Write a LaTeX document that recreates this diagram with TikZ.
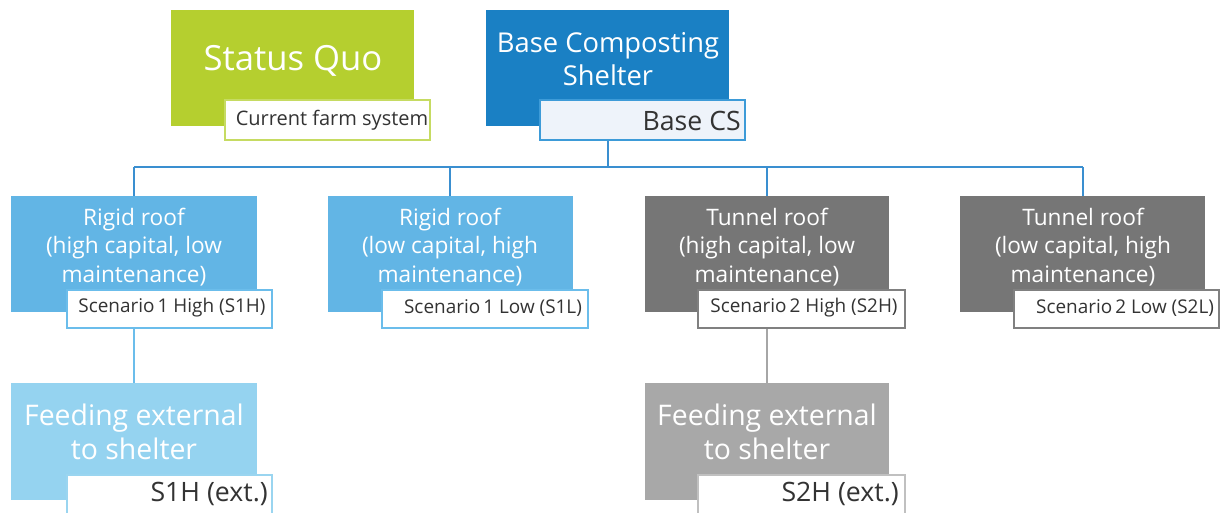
\documentclass[tikz,border=0pt]{standalone}
\usepackage{fontspec}
\setmainfont{Open Sans}
\usetikzlibrary{fit}
\definecolor{sqgreen}{HTML}{B5CF2F}
\definecolor{sqborder}{HTML}{C6DB62}
\definecolor{basecs}{HTML}{1A80C4}
\definecolor{basecsborder}{HTML}{3D9BD8}
\definecolor{basecsfill}{HTML}{EEF3FA}
\definecolor{rigid}{HTML}{62B5E5}
\definecolor{rigidborder}{HTML}{6BBDEB}
\definecolor{tunnel}{HTML}{767676}
\definecolor{tunnelborder}{HTML}{808080}
\definecolor{feedblue}{HTML}{95D3F0}
\definecolor{feedblueborder}{HTML}{9AD5F0}
\definecolor{feedgray}{HTML}{A8A8A8}
\definecolor{feedgrayborder}{HTML}{C0C0C0}
\definecolor{conn}{HTML}{3A8FD0}
\definecolor{subtext}{HTML}{333333}
\tikzset{
  box/.style={fit={#1}, inner sep=0pt, draw=none},
  subbox/.style={fit={#1}, inner sep=0pt, fill=white, line width=1.5pt},
  bigtext/.style 2 args={text=white, align=center, font=\fontsize{#1}{#2}\selectfont, inner sep=0pt},
  midtext/.style={text=white, align=center, font=\fontsize{17}{21.5}\selectfont, inner sep=0pt},
  subtxt/.style={text=subtext, inner sep=0pt, font=\fontsize{#1}{#1}\selectfont},
  connector/.style={draw=conn, line width=1.5pt},
}
\begin{document}
\begin{tikzpicture}[x=0.75pt, y=-0.75pt]
\useasboundingbox (0,0) rectangle (1220,512);
% Status Quo
\node[box={(171,10) (414,126)}, fill=sqgreen] (sq) {};
\node[bigtext={26}{31}] (sqt) at (293,61) {Status Quo};
\node[subbox={(225,100) (430,140)}, draw=sqborder] (sqs) {};
\node[subtxt=15] (sqst) at (332,120) {Current farm system};
% Base composting shelter
\node[box={(486,10) (729,126)}, fill=basecs] (bcs) {};
\node[bigtext={20.5}{25}] (bcst) at (608,59) {Base Composting\\Shelter};
\node[subbox={(540,100) (745,140)}, draw=basecsborder, fill=basecsfill] (bcss) {};
\node[subtxt=20, anchor=east] (bcsst) at (741,121) {Base CS};
% level 2 boxes
\node[box={(11,196) (257,312)}, fill=rigid] (r1) {};
\node[midtext] (r1t) at (134,247) {Rigid roof\\(high capital, low\\maintenance)};
\node[subbox={(67,290) (272,328)}, draw=rigidborder] (r1s) {};
\node[subtxt=14.2] (r1st) at (172,308) {Scenario\,1 High (S1H)};

\node[box={(328,196) (573,312)}, fill=rigid] (r2) {};
\node[midtext] (r2t) at (450,247) {Rigid roof\\(low capital, high\\maintenance)};
\node[subbox={(382,290) (588,328)}, draw=rigidborder] (r2s) {};
\node[subtxt=14.2] (r2st) at (493,308) {Scenario\,1 Low (S1L)};

\node[box={(645,196) (889,312)}, fill=tunnel] (t1) {};
\node[midtext] (t1t) at (767,247) {Tunnel roof\\(high capital, low\\maintenance)};
\node[subbox={(698,290) (905,328)}, draw=tunnelborder] (t1s) {};
\node[subtxt=14.2] (t1st) at (804,308) {Scenario\,2 High (S2H)};

\node[box={(960,196) (1205,312)}, fill=tunnel] (t2) {};
\node[midtext] (t2t) at (1083,247) {Tunnel roof\\(low capital, high\\maintenance)};
\node[subbox={(1014,290) (1219,328)}, draw=tunnelborder] (t2s) {};
\node[subtxt=14.2] (t2st) at (1125,308) {Scenario\,2 Low (S2L)};

% level 3
\node[box={(11,383) (257,500)}, fill=feedblue] (f1) {};
\node[bigtext={21.3}{26}] (f1t) at (134,432) {Feeding external\\to shelter};
\node[subbox={(67,475) (272,516)}, draw=feedblueborder] (f1s) {};
\node[subtxt=20, anchor=east] (f1st) at (268,494) {S1H (ext.)};

\node[box={(645,383) (889,500)}, fill=feedgray] (f2) {};
\node[bigtext={21.3}{26}] (f2t) at (767,432) {Feeding external\\to shelter};
\node[subbox={(698,475) (905,516)}, draw=feedgrayborder] (f2s) {};
\node[subtxt=20, anchor=east] (f2st) at (899,494) {S2H (ext.)};

% connectors
\coordinate (hub) at (608,167);
\coordinate (h1) at (134,167);
\coordinate (h2) at (450,167);
\coordinate (h3) at (767,167);
\coordinate (h4) at (1083,167);
\draw[connector] (bcss.south -| hub) -- (hub);
\draw[connector] (h1) -- (h4);
\draw[connector] (h1) -- (h1 |- r1.north);
\draw[connector] (h2) -- (h2 |- r2.north);
\draw[connector] (h3) -- (h3 |- t1.north);
\draw[connector] (h4) -- (h4 |- t2.north);
\draw[draw=rigidborder, line width=1.5pt] (r1s.south -| h1) -- (f1.north -| h1);
\draw[draw=tunnelborder!70, line width=1.5pt] (t1s.south -| h3) -- (f2.north -| h3);
\end{tikzpicture}
\end{document}
